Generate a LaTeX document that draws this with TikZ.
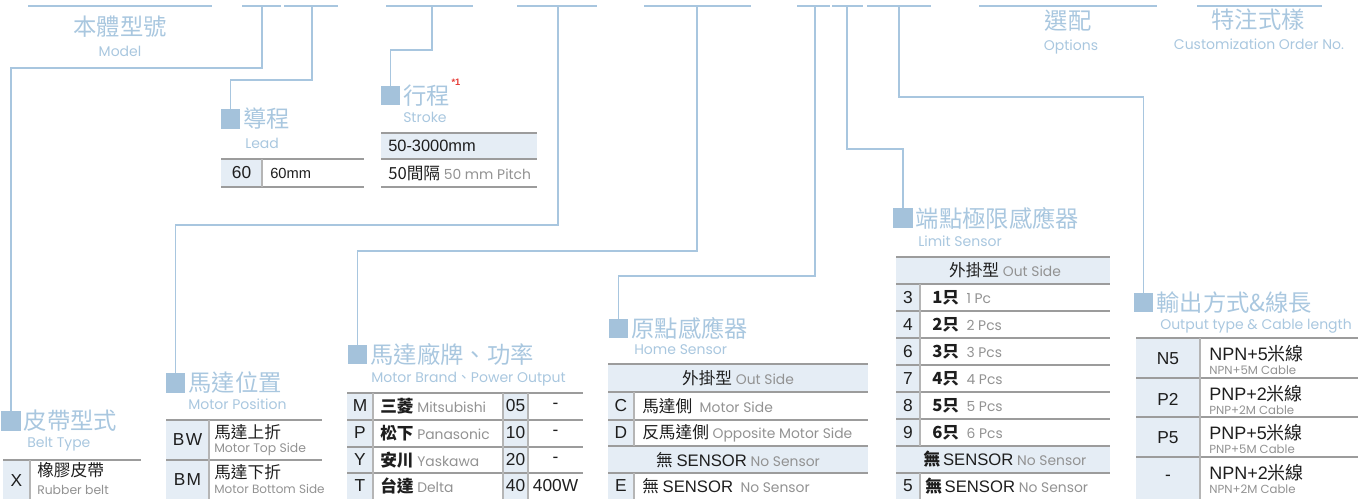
\documentclass[tikz,border=0pt]{standalone}
\usepackage{fontspec}
\setmainfont{Liberation Sans}
\newfontfamily\zh{Noto Sans CJK TC}
\newfontfamily\en{Poppins}
\usepackage{tikz}
\usetikzlibrary{positioning}
\definecolor{connc}{HTML}{A8C6DF}
\definecolor{sqc}{HTML}{A4C2DB}
\definecolor{titc}{HTML}{A9C7DF}
\definecolor{cellc}{HTML}{E5EDF5}
\definecolor{gridc}{HTML}{9C9C9C}
\definecolor{sepc}{HTML}{B5B5B5}
\definecolor{engc}{HTML}{929292}
\definecolor{txtc}{HTML}{1E1E1E}
\definecolor{starc}{HTML}{E63B36}
\newcommand\engtxt[1]{{\en\color{engc}\fontsize{10.4}{11}\selectfont #1}}
\newcommand\latn[1]{{\rmfamily #1}}

\begin{document}
\begin{tikzpicture}[x=0.75pt,y=-0.75pt,
  bar/.style={connc,line width=1.6pt},
  conn/.style={connc,line width=1.1pt},
  sq/.style={fill=sqc,minimum size=14.5pt,inner sep=0pt},
  title/.style={titc,font=\zh\fontsize{17.5}{18}\selectfont,inner sep=0pt,anchor=west},
  sub/.style={titc,font=\en\fontsize{10.5}{11}\selectfont,inner sep=0pt,anchor=west},
  tline/.style={gridc,line width=1.3pt},
  rline/.style={gridc,line width=0.9pt},
  vline/.style={sepc,line width=0.9pt},
  codetxt/.style={txtc,font=\fontsize{13}{14}\selectfont,inner sep=0pt},
  celltxt/.style={txtc,font=\zh\fontsize{12.5}{13}\selectfont,inner sep=0pt,anchor=west},
  entxt/.style={engc,font=\en\fontsize{9.3}{10}\selectfont,inner sep=0pt,anchor=west}]
  \useasboundingbox (0,0) rectangle (1370,499);

  % top bar
  \foreach \a/\b in {28/212,242/281,284/338,386/473,517/597,644/751,797/830,832/863,867/931,979/1157,1197/1322}
    \draw[bar] (\a,6) -- (\b,6);
  \foreach \n/\x in {Belt/262,Lead/312,Stroke/432,Pos/558,Brand/697,Home/815,Limit/847,Out/899}
    \coordinate (d\n) at (\x,6);
  \node[title,anchor=center] (tiModel) at (120,27) {本體型號};
  \node[sub,anchor=center] (suModel) at (120,51) {Model};
  \node[title,anchor=center] (tiOpt) at (1068,21) {選配};
  \node[sub,anchor=center] (suOpt) at (1071,47) {Options};
  \node[title,anchor=center] (tiCust) at (1258,20) {特注式樣};
  \node[sub,anchor=center] (suCust) at (1259,44) {Customization Order No.};

  % headings
  \node[sq] (sqBelt) at (11,421) {};
  \node[title,right=2pt of sqBelt] (tiBelt) {皮帶型式};
  \node[sub] (suBelt) at (27,444) {Belt Type};
  \node[sq] (sqLead) at (230.5,119) {};
  \node[title,right=2pt of sqLead] (tiLead) {導程};
  \node[sub] (suLead) at (245,143) {Lead};
  \node[sq] (sqStroke) at (390.5,95.5) {};
  \node[title,right=2pt of sqStroke] (tiStroke) {行程};
  \node[starc,font=\bfseries\fontsize{7}{7}\selectfont,inner sep=0pt] (star) at (456,82) {*1};
  \node[sub] (suStroke) at (403,117) {Stroke};
  \node[sq] (sqPos) at (175.5,383) {};
  \node[title,right=2pt of sqPos] (tiPos) {馬達位置};
  \node[sub] (suPos) at (188,404) {Motor Position};
  \node[sq] (sqBrand) at (357.5,354.5) {};
  \node[title,right=2pt of sqBrand] (tiBrand) {馬達廠牌、功率};
  \node[sub] (suBrand) at (371,379) {Motor Brand{\zh 、}Power Output};
  \node[sq] (sqHome) at (618.5,328.5) {};
  \node[title,right=2pt of sqHome] (tiHome) {原點感應器};
  \node[sub] (suHome) at (634,350) {Home Sensor};
  \node[sq] (sqLimit) at (903,218) {};
  \node[title,right=2pt of sqLimit] (tiLimit) {端點極限感應器};
  \node[sub] (suLimit) at (918,241) {Limit Sensor};
  \node[sq] (sqOut) at (1143.5,302.5) {};
  \node[title,right=2pt of sqOut] (tiOut) {輸出方式\&線長};
  \node[sub] (suOut) at (1160,326) {Output type \& Cable length};

  % connectors
  \draw[conn] (dBelt) -- ++(0,62) -| (sqBelt.north);
  \draw[conn] (dLead) -- ++(0,74) -| (sqLead.north);
  \draw[conn] (dStroke) -- ++(0,44) -| (sqStroke.north);
  \draw[conn] (dPos) -- ++(0,219) -| (sqPos.north);
  \draw[conn] (dBrand) -- ++(0,245) -| (sqBrand.north);
  \draw[conn] (dHome) -- ++(0,270) -| (sqHome.north);
  \draw[conn] (dLimit) -- ++(0,143) -| (sqLimit.north);
  \draw[conn] (dOut) -- ++(0,91) -| (sqOut.north);

  % belt type
  \fill[cellc] (3,460) rectangle (30,499);
  \draw[tline] (3,460) -- (141,460);
  \draw[vline] (30,460) -- (30,499);
  \node[codetxt] (cX) at (16.5,481) {X};
  \node[celltxt] (nX) at (37,470) {橡膠皮帶};
  \node[entxt] (eX) at (37,490) {Rubber belt};

  % motor position
  \fill[cellc] (166,420) rectangle (209,499);
  \draw[tline] (166,420) -- (322,420);
  \draw[rline] (166,460) -- (322,460);
  \draw[vline] (209,420) -- (209,499);
  \node[codetxt] (cBW) at (187.5,440) {B\kern1pt W};
  \node[celltxt] (nBW) at (214,432) {馬達上折};
  \node[entxt] (eBW) at (214,449) {Motor Top Side};
  \node[codetxt] (cBM) at (187.5,480) {B\kern1pt M};
  \node[celltxt] (nBM) at (214,472) {馬達下折};
  \node[entxt,font=\en\fontsize{9}{10}\selectfont] (eBM) at (214,489) {Motor Bottom Side};

  % motor brand, power
  \fill[cellc] (347,393) rectangle (373,499);
  \fill[cellc] (503,393) rectangle (528,499);
  \draw[tline] (347,393) -- (583,393);
  \foreach \y in {420,447,473} \draw[rline] (347,\y) -- (583,\y);
  \foreach \x in {373,503,528} \draw[vline] (\x,393) -- (\x,499);
  \foreach \c/\n/\e/\k/\w/\y in {M/三菱/Mitsubishi/05/-/406,P/松下/Panasonic/10/-/433,Y/安川/Yaskawa/20/-/460,T/台達/Delta/40/400W/486}{
    \node[codetxt] (b\c) at (360,\y) {\c};
    \node[celltxt] (bn\c) at (380,\y) {\textbf{\n}\ \engtxt{\e}};
    \node[codetxt] (bk\c) at (515.5,\y) {\k};
    \node[codetxt] (bw\c) at (555.5,\y) {\w};
  }

  % home sensor
  \fill[cellc] (608,364) rectangle (868,392);
  \fill[cellc] (608,446) rectangle (868,473);
  \fill[cellc] (608,392) rectangle (634,446);
  \fill[cellc] (608,473) rectangle (634,499);
  \draw[tline] (608,364) -- (868,364);
  \foreach \y in {392,420,446,473} \draw[rline] (608,\y) -- (868,\y);
  \draw[vline] (634,392) -- (634,446);
  \draw[vline] (634,473) -- (634,499);
  \node[celltxt,anchor=center] (hOut) at (738,378) {外掛型\ \engtxt{Out Side}};
  \node[codetxt] (hC) at (621,406) {C};
  \node[celltxt] (hnC) at (642,406) {馬達側\ \ \engtxt{Motor Side}};
  \node[codetxt] (hD) at (621,433) {D};
  \node[celltxt] (hnD) at (642,433) {反馬達側\ \engtxt{Opposite Motor Side}};
  \node[celltxt,anchor=center] (hNo) at (738,460) {無\ \latn{SENSOR}\ \engtxt{No Sensor}};
  \node[codetxt] (hE) at (621,486) {E};
  \node[celltxt] (hnE) at (642,486) {無\ \latn{SENSOR}\ \ \engtxt{No Sensor}};

  % limit sensor
  \fill[cellc] (896,257) rectangle (1110,284);
  \fill[cellc] (896,446) rectangle (1110,473);
  \fill[cellc] (896,284) rectangle (920,446);
  \fill[cellc] (896,473) rectangle (920,499);
  \draw[tline] (896,257) -- (1110,257);
  \foreach \y in {284,311,338,365,392,419,446,473} \draw[rline] (896,\y) -- (1110,\y);
  \draw[vline] (920,284) -- (920,446);
  \draw[vline] (920,473) -- (920,499);
  \node[celltxt,anchor=center] (lOut) at (1005,270.5) {外掛型\ \engtxt{Out Side}};
  \foreach \c/\k/\e/\y in {3/1/1 Pc/297.5,4/2/2 Pcs/324.5,6/3/3 Pcs/351.5,7/4/4 Pcs/378.5,8/5/5 Pcs/405.5,9/6/6 Pcs/432.5}{
    \node[codetxt] (l\c) at (908,\y) {\c};
    \node[celltxt] (ln\c) at (932,\y) {\textbf{\k 只}\ \ \engtxt{\e}};
  }
  \node[celltxt,anchor=center] (lNo) at (1005,459.5) {\textbf{無}\,\latn{SENSOR}\ \engtxt{No Sensor}};
  \node[codetxt] (l5) at (908,486) {5};
  \node[celltxt] (ln5) at (925,486) {\textbf{無}\,\latn{SENSOR}\ \engtxt{No Sensor}};

  % output type & cable length
  \fill[cellc] (1136,338) rectangle (1200,499);
  \draw[tline] (1136,338) -- (1358,338);
  \foreach \y in {378,417,457} \draw[rline] (1136,\y) -- (1358,\y);
  \draw[vline] (1200,338) -- (1200,499);
  \foreach \c/\m/\e/\y [count=\i] in {N5/NPN+5/NPN+5M Cable/338,P2/PNP+2/PNP+2M Cable/378,P5/PNP+5/PNP+5M Cable/417,-/NPN+2/NPN+2M Cable/457}{
    \node[codetxt] (o\i) at (1168,\y+21) {\c};
    \node[txtc,font=\fontsize{13.5}{14}\selectfont,inner sep=0pt,anchor=west] (om\i) at (1209,\y+16) {\m{\zh 米線}};
    \node[entxt,font=\en\fontsize{8.8}{9}\selectfont] (oe\i) at (1209,\y+32) {\e};
  }

  % lead
  \fill[cellc] (221,159) rectangle (262,187);
  \draw[tline] (221,159) -- (364,159);
  \draw[tline] (221,187) -- (364,187);
  \draw[vline] (262,159) -- (262,187);
  \node[codetxt] (ld60) at (241.5,173) {60};
  \node[txtc,font=\fontsize{11}{12}\selectfont,inner sep=0pt,anchor=west] (ldmm) at (270,173) {60mm};

  % stroke
  \fill[cellc] (381,133) rectangle (537,159);
  \draw[tline] (381,133) -- (537,133);
  \draw[rline] (381,159) -- (537,159);
  \draw[tline] (381,187) -- (537,187);
  \node[txtc,font=\fontsize{12.3}{13}\selectfont,inner sep=0pt,anchor=west] (st1) at (388,146) {50-3000mm};
  \node[celltxt] (st2) at (388,173) {50間隔\ \engtxt{50 mm Pitch}};
\end{tikzpicture}
\end{document}
